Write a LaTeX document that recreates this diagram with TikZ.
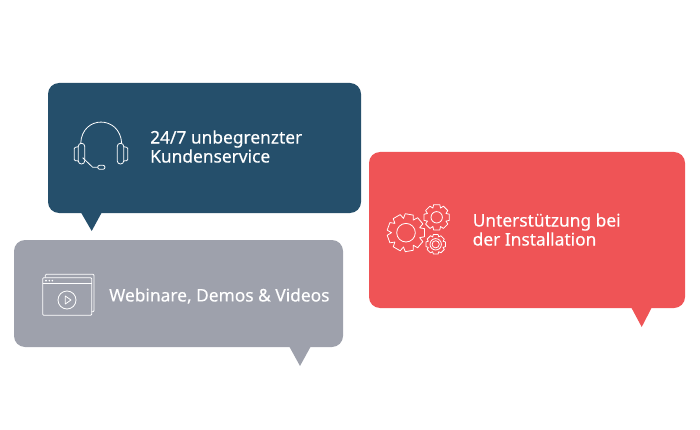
\documentclass[tikz,border=0pt]{standalone}
\usepackage{fontspec}
\setmainfont[FakeBold=0.25]{Noto Sans}
\definecolor{bubbleblue}{HTML}{254F6B}
\definecolor{bubblegray}{HTML}{9EA1AC}
\definecolor{bubblered}{HTML}{EF5456}
\tikzset{
  bubble/.style={rounded corners=11pt, inner sep=0pt, outer sep=0pt},
  caption/.style={text=white, anchor=west, align=left, inner sep=0pt, font=\fontsize{17.35}{19}\selectfont},
  iconline/.style={draw=white, line width=0.8pt, line join=round, fill=none}
}
\newcommand{\gearicon}[5]{% centre, outer, root, hole, teeth
  \draw[iconline, shift={(#1)}] (-180/#5:#3)
    \foreach \i in {1,...,#5} {
      -- ({360*(\i-1)/#5-110/#5}:#2) -- ({360*(\i-1)/#5+110/#5}:#2)
      -- ({360*(\i-1)/#5+180/#5}:#3)
    } -- cycle;
  \draw[iconline] (#1) circle (#4);
}
\begin{document}
\begin{tikzpicture}[x=1pt, y=-1pt]
\useasboundingbox (0,0) rectangle (700,430);

% bubbles
\node[bubble, fill=bubbleblue, minimum width=313pt, minimum height=130pt] (service) at (204.5,148) {};
\node[bubble, fill=bubblegray, minimum width=329pt, minimum height=107pt] (webinar) at (178.5,293.5) {};
\node[bubble, fill=bubblered, minimum width=316pt, minimum height=156pt] (install) at (527,230) {};

% tails
\fill[bubbleblue] (80.7,212) -- (91.7,231) -- (102,212) -- cycle;
\fill[bubblegray] (289,346) -- (300,366) -- (311,346) -- cycle;
\fill[bubblered] (631,307) -- (641.7,327) -- (652,307) -- cycle;

% texts
\node[caption] (servicetext) at (150,146.5) {24/7 unbegrenzter\\Kundenservice};
\node[caption] (webinartext) at (109,296) {Webinare, Demos \& Videos};
\node[caption] (installtext) at (472.5,229.5) {Unterstützung bei\\der Installation};

% headset
\draw[iconline] (80.7,143.3) .. controls (82,115) and (120,115) .. (121.7,143.3);
\draw[iconline, rounded corners=3pt] (78.3,143.3) rectangle (84.7,164);
\draw[iconline, rounded corners=3pt] (117.3,143.3) rectangle (123.7,164);
\draw[iconline, rounded corners=1pt] (78.3,146.7) -- (74.3,147.5) -- (74.3,160.5) -- (78.3,161);
\draw[iconline, rounded corners=1pt] (123.7,146.7) -- (127.7,147.5) -- (127.7,160.5) -- (123.7,161);
\draw[iconline] (82.7,157.7) -- (92.7,167.3) -- (97.7,167.3);
\draw[iconline, rounded corners=2pt] (97.7,165.3) rectangle (105,169.3);

% window
\draw[iconline, rounded corners=1pt] (42.7,277.7) rectangle (91.7,315.3);
\draw[iconline] (42.7,283.3) -- (91.7,283.3);
\draw[iconline, rounded corners=1pt] (45.3,277.7) -- (45.3,274.3) -- (94,274.3) -- (94,311.7) -- (91.7,311.7);
\foreach \x in {46,49.3,52.3}
{
    \fill[white] (\x,280.6) circle (0.9);
}
\draw[iconline] (67,300) circle (9);
\draw[iconline] (65.3,296) -- (71,300) -- (65.3,304) -- cycle;

% gears
\gearicon{406,232.7}{19}{14.5}{9.3}{9}
\gearicon{436.7,217.3}{13}{10}{5.7}{8}
\gearicon{435.7,244.3}{10}{8}{5.7}{8}
\draw[iconline] (435.7,244.3) circle (3.6);
\end{tikzpicture}
\end{document}
